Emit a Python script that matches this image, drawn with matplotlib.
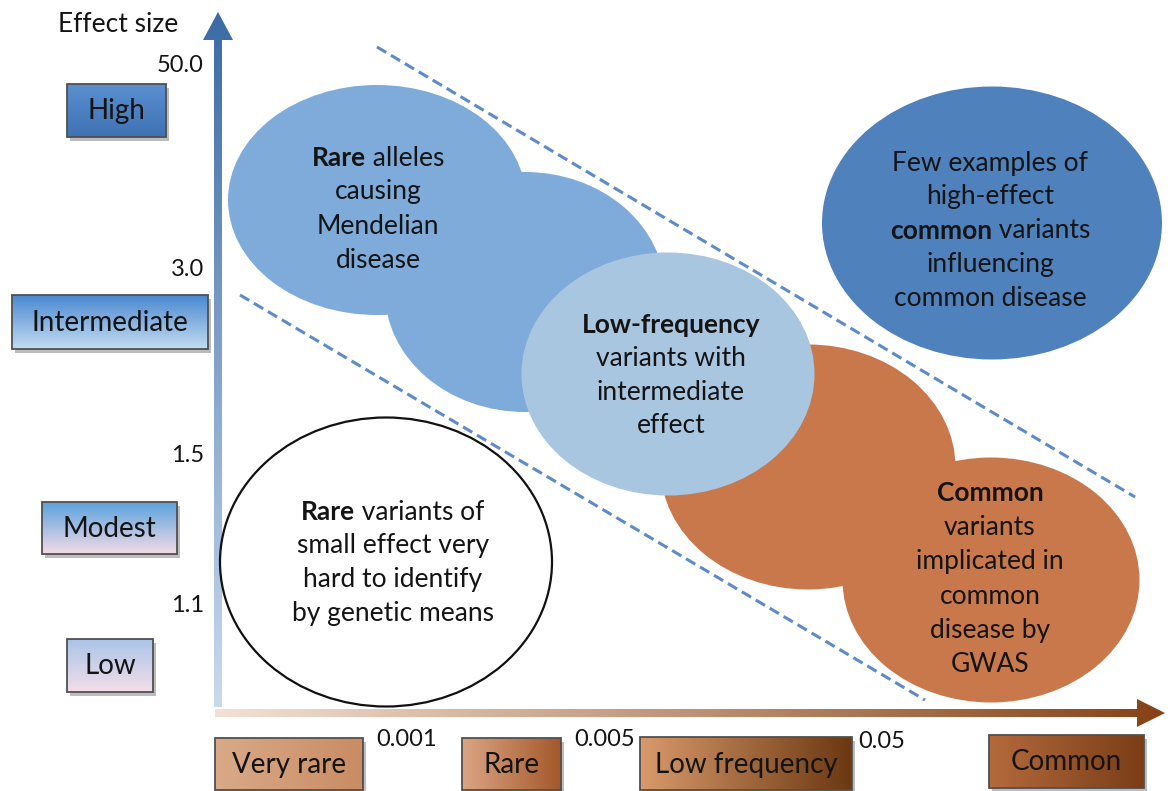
import numpy as np
import matplotlib
matplotlib.use("Agg")
import matplotlib.pyplot as plt
from matplotlib.patches import Rectangle, Ellipse, Polygon
from matplotlib.colors import to_rgb

plt.rcParams['font.family'] = ['Lato', 'DejaVu Sans']

# Axis labels and cut-offs
effect_title = 'Effect size'
effect_levels = ['High', 'Intermediate', 'Modest', 'Low']
effect_cutoffs = ['50.0', '3.0', '1.5', '1.1']
freq_levels = ['Very rare', 'Rare', 'Low frequency', 'Common']
freq_cutoffs = ['0.001', '0.005', '0.05']

# Text inside each region: list of lines, each a list of (segment, bold)
rare_mendelian_text = [[('Rare', True), (' alleles', False)], [('causing', False)],
                       [('Mendelian', False)], [('disease', False)]]
low_freq_text = [[('Low-frequency', True)], [('variants with', False)],
                 [('intermediate', False)], [('effect', False)]]
high_common_text = [[('Few examples of', False)], [('high-effect', False)],
                    [('common', True), (' variants', False)], [('influencing', False)],
                    [('common disease', False)]]
gwas_text = [[('Common', True)], [('variants', False)], [('implicated in', False)],
             [('common', False)], [('disease by', False)], [('GWAS', False)]]
rare_small_text = [[('Rare', True), (' variants of', False)], [('small effect very', False)],
                   [('hard to identify', False)], [('by genetic means', False)]]

W, H = 1171, 791
fig = plt.figure(figsize=(W / 100, H / 100), dpi=100)
ax = fig.add_axes([0, 0, 1, 1])
ax.set_xlim(0, W)
ax.set_ylim(H, 0)
ax.axis('off')
renderer = fig.canvas.get_renderer()


def gradient(c0, c1, horizontal=False, n=256):
    a, b = np.array(to_rgb(c0)), np.array(to_rgb(c1))
    t = np.linspace(0, 1, n)[:, None]
    g = a + (b - a) * t
    if horizontal:
        return g[None, :, :]
    return g[:, None, :]


def fill_gradient(patch, extent, c0, c1, horizontal=False, z=2):
    ax.add_patch(patch)
    im = ax.imshow(gradient(c0, c1, horizontal), extent=extent, aspect='auto',
                   origin='upper', zorder=z, interpolation='bilinear')
    im.set_clip_path(patch)


def label_box(x0, y0, x1, y1, text, c0, c1, horizontal=False, size=20):
    ax.add_patch(Rectangle((x0 + 3, y0 + 4), x1 - x0, y1 - y0, fc='#6b6b6b',
                           ec='none', alpha=0.45, zorder=1))
    clip = Rectangle((x0, y0), x1 - x0, y1 - y0, fc='none', ec='none', zorder=2)
    fill_gradient(clip, (x0, x1, y1, y0), c0, c1, horizontal)
    ax.add_patch(Rectangle((x0, y0), x1 - x0, y1 - y0, fc='none', ec='#505050',
                           lw=1.3, zorder=3))
    ax.text((x0 + x1) / 2, (y0 + y1) / 2 + 1, text, fontsize=size, ha='center',
            va='center', color='#141414', zorder=4)


def rich_block(cx, y_first, lines, step=34, size=19):
    for i, parts in enumerate(lines):
        y = y_first + i * step
        texts = [ax.text(0, y, s, fontsize=size, ha='left', va='center',
                         fontweight='bold' if b else 'normal', color='#141414', zorder=10)
                 for s, b in parts]
        widths = [t.get_window_extent(renderer).width for t in texts]
        cur = cx - sum(widths) / 2
        for t, w in zip(texts, widths):
            t.set_x(cur)
            cur += w


# axes arrows
y_arrow = Polygon([(214, 707), (214, 40), (203, 40), (218, 12), (233, 40), (222, 40), (222, 707)],
                  closed=True, fc='none', ec='none')
fill_gradient(y_arrow, (203, 233, 707, 12), '#3b6aa6', '#cadaee')
x_arrow = Polygon([(215, 709), (1137, 709), (1137, 699), (1165, 713), (1137, 727), (1137, 717), (215, 717)],
                  closed=True, fc='none', ec='none')
fill_gradient(x_arrow, (215, 1165, 727, 699), '#f3e1d4', '#874216', horizontal=True)

# effect size side
ax.text(118, 25, effect_title, fontsize=19, ha='center', va='center', color='#141414')
box_y = [(67, 84, 166, 137), (12, 295, 208, 349), (42, 502, 177, 554), (67, 639, 153, 692)]
box_cols = [('#5a8fd0', '#3f72b4'), ('#4a88d0', '#c4dcf2'), ('#5aa2de', '#f4dbe6'), ('#a9c4e8', '#f4dee9')]
for (x0, y0, x1, y1), lab, (c0, c1) in zip(box_y, effect_levels, box_cols):
    label_box(x0, y0, x1, y1, lab, c0, c1)
for lab, y in zip(effect_cutoffs, [66, 270, 455, 605]):
    ax.text(204, y, lab, fontsize=17, ha='right', va='center', color='#141414')

# frequency side
box_x = [(215, 738, 363, 790), (462, 738, 561, 790), (640, 737, 852, 790), (989, 735, 1144, 788)]
freq_cols = [('#d9aa88', '#c98c63'), ('#dba584', '#a4582a'), ('#d99a6b', '#6b3812'), ('#b46a3c', '#7a3d17')]
for (x0, y0, x1, y1), lab, (c0, c1) in zip(box_x, freq_levels, freq_cols):
    label_box(x0, y0, x1, y1, lab, c0, c1, horizontal=True)
for lab, x, y in zip(freq_cutoffs, [407, 605, 882], [739, 739, 741]):
    ax.text(x, y, lab, fontsize=17, ha='center', va='center', color='#141414')

# regions
rare_col = '#7eabda'
ax.add_patch(Ellipse((377, 200), 298, 230, fc=rare_col, ec='none', zorder=4))
ax.add_patch(Ellipse((525, 292), 280, 240, fc=rare_col, ec='none', zorder=4))
ax.add_patch(Ellipse((668, 374), 293, 243, fc='#a9c6e1', ec='none', zorder=5))
ax.add_patch(Ellipse((992, 223), 340, 273, fc='#4f81bd', ec='none', zorder=4))
gwas_col = '#c8784b'
ax.add_patch(Ellipse((808, 467), 295, 245, fc=gwas_col, ec='none', zorder=4))
ax.add_patch(Ellipse((991, 580), 297, 245, fc=gwas_col, ec='none', zorder=4))
ax.add_patch(Ellipse((386, 562), 332, 289, fc='white', ec='#111111', lw=1.6, zorder=4))

# dashed boundaries
ax.plot([377, 1135], [47, 497], ls=(0, (3.5, 1.8)), color='#5d8bc9', lw=2.2, zorder=8)
ax.plot([240, 925], [295, 700], ls=(0, (3.5, 1.8)), color='#5d8bc9', lw=2.2, zorder=8)

rich_block(378, 158, rare_mendelian_text)
rich_block(671, 325, low_freq_text, step=33.5)
rich_block(990, 163, high_common_text, step=33.8)
rich_block(990, 493, gwas_text, step=34.4)
rich_block(393, 512, rare_small_text)

fig.savefig('out.png', dpi=100, facecolor='white')
